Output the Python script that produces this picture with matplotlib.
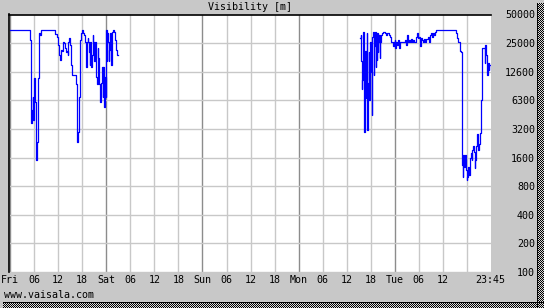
import numpy as np
import matplotlib
matplotlib.use("Agg")
import matplotlib.pyplot as plt

# hours since Fri 00:00, visibility in metres (step samples)
fri_hours = [0.0, 4.85, 5.1, 5.22, 5.43, 5.6, 5.72, 5.85, 6.1, 6.35, 6.5, 6.75,
             6.93, 7.18, 7.43, 7.75, 8.43, 11.18, 11.68, 12.05, 12.3, 12.5,
             12.68, 12.8, 13.05, 13.25, 13.43, 13.68, 13.93, 14.18, 14.43,
             14.55, 14.8, 15.0, 15.18, 15.43, 16.43, 16.68, 16.8, 17.0, 17.18,
             17.3, 17.5, 17.68, 17.93, 18.18, 18.43, 18.68, 18.85, 19.0, 19.18,
             19.35, 19.5, 19.68, 19.85, 20.0, 20.18, 20.43, 20.6, 20.8, 21.0,
             21.18, 21.43, 21.68, 21.85, 22.0, 22.25, 22.5, 22.68, 22.93, 23.1,
             23.3, 23.5, 23.68, 23.85, 24.0, 24.18, 24.3, 24.43, 24.6, 24.75,
             24.93, 25.1, 25.25, 25.43, 25.68, 26.05, 26.25, 26.5, 26.75, 26.93]
fri_vis = [35000, 27500, 9000, 3700, 5100, 7000, 4000, 11100, 6200, 4000, 1520,
           2350, 11100, 33100, 31500, 34800, 35000, 32300, 30000, 24700, 19400,
           16800, 18500, 21900, 20900, 26600, 25400, 23000, 20400, 20900, 19400,
           26000, 29300, 24700, 15200, 11900, 9400, 4300, 2350, 3000, 4500,
           7000, 27900, 33100, 34800, 33100, 31500, 26000, 20400, 14200, 26000,
           29300, 26600, 20400, 15200, 26000, 14200, 19400, 31500, 26000, 16400,
           26000, 11400, 9400, 23000, 18000, 9400, 6100, 9800, 14200, 7000,
           14200, 5400, 11400, 7000, 35000, 16400, 33100, 26000, 16400, 21900,
           33100, 26000, 15200, 33900, 35000, 33900, 27900, 21900, 19400, 19400]

mon_hours = [87.35, 87.5, 87.68, 87.75, 87.93, 88.05, 88.18, 88.43, 88.68, 88.8,
             88.93, 89.05, 89.18, 89.43, 89.55, 89.68, 89.8, 89.93, 90.05, 90.18,
             90.3, 90.43, 90.55, 90.68, 90.8, 90.93, 91.05, 91.18, 91.3, 91.43,
             91.55, 91.68, 91.8, 91.93, 92.05, 92.18, 92.3, 92.43, 92.68, 92.93,
             93.43, 93.68, 93.93, 94.43, 94.68, 94.93, 95.18, 95.43, 95.68, 95.93,
             96.1, 96.3, 96.55, 96.8, 97.05, 97.3, 97.55, 97.93, 98.18, 98.43,
             98.68, 98.93, 99.18, 99.43, 99.68, 99.93, 100.18, 100.43, 100.68,
             100.93, 101.18, 101.43, 101.68, 101.93, 102.3, 102.55, 102.8, 103.05,
             103.3, 103.55, 103.8, 104.18, 104.43, 104.68, 104.93, 105.18, 105.43,
             105.68, 105.93, 106.18, 111.18, 111.43, 111.68, 112.18, 112.43,
             112.68, 112.75, 112.93, 113.1, 113.3, 113.5, 113.68, 113.93, 114.1,
             114.3, 114.5, 114.68, 114.93, 115.18, 115.35, 115.55, 115.75, 115.93,
             116.1, 116.25, 116.43, 116.6, 116.8, 117.0, 117.18, 117.43, 117.68,
             117.93, 118.43, 118.55, 118.8, 118.93, 119.1, 119.25, 119.43, 119.6,
             119.75]
mon_vis = [29300, 30800, 16400, 8500, 10600, 17200, 33900, 3000, 20900, 6700,
           10600, 33100, 3100, 9800, 20400, 6500, 13500, 26000, 21900, 12800,
           4500, 30000, 33900, 11900, 31500, 23600, 33900, 14500, 26600, 17200,
           33100, 20400, 31500, 26600, 31500, 18000, 26000, 31500, 33100, 33900,
           33100, 31500, 33100, 31500, 30000, 26000, 26000, 23600, 26000, 27900,
           22500, 26600, 24700, 27900, 23000, 26000, 26000, 26600, 26000, 27900,
           24700, 30800, 26000, 27900, 26000, 28600, 26000, 27900, 26000, 26600,
           30000, 33100, 29300, 30000, 23600, 29300, 27900, 26000, 28600, 26000,
           28600, 30000, 26600, 31500, 33100, 30000, 33100, 31500, 33900, 35000,
           33100, 29300, 26600, 20900, 20400, 6100, 1340, 1000, 1710, 1280,
           1710, 1190, 930, 1000, 1280, 1050, 1590, 1800, 1520, 1930, 2100, 1840,
           1250, 1520, 2100, 2200, 2800, 1930, 2200, 2900, 6500, 22500, 22500,
           16000, 24700, 19400, 17200, 11900, 16000, 13500, 15200, 15200]

x_ticks = [0, 6, 12, 18, 24, 30, 36, 42, 48, 54, 60, 66, 72, 78, 84, 90, 96,
           102, 108, 119.75]
x_labels = ["Fri", "06", "12", "18", "Sat", "06", "12", "18", "Sun", "06", "12",
            "18", "Mon", "06", "12", "18", "Tue", "06", "12", "23:45"]
grid_hours = list(range(0, 120, 6))
y_ticks = [100, 200, 400, 800, 1600, 3200, 6400, 12800, 25600, 51200]
y_labels = ["100", "200", "400", "800", "1600", "3200", "6300", "12600",
            "25000", "50000"]

bg = "#c8c8c8"
plt.rcParams["font.family"] = ["DejaVu Sans Mono"]
plt.rcParams["font.size"] = 7.2

fig = plt.figure(figsize=(5.44, 3.08), dpi=100, facecolor=bg)
W, H = 544, 308
ax = fig.add_axes([8.5 / W, 1 - 272 / H, (491 - 8.5) / W, (272 - 14.5) / H])
ax.set_facecolor("white")

for h in grid_hours:
    c = "#8c8c8c" if h % 24 == 0 else "#c8c8c8"
    ax.axvline(h, color=c, linewidth=1.0, zorder=1)
for v in y_ticks:
    ax.axhline(v, color="#c8c8c8", linewidth=1.0, zorder=1)

ax.plot(fri_hours, fri_vis, color="#0000ff", linewidth=0.9, drawstyle="steps-post", zorder=3)
ax.plot(mon_hours, mon_vis, color="#0000ff", linewidth=0.9, drawstyle="steps-post", zorder=3)

ax.set_yscale("log", base=2)
ax.set_ylim(100, 51200)
ax.set_xlim(-0.4, 120)

ax.set_xticks(x_ticks, x_labels)
ax.set_yticks(y_ticks, y_labels)
ax.minorticks_off()
ax.tick_params(axis="x", length=0, pad=2.5, colors="black")
ax.tick_params(axis="y", length=0, left=False, labelleft=False, right=False,
               labelright=True, pad=31.7, colors="black")
for t in ax.yaxis.get_major_ticks():
    t.label2.set_horizontalalignment("right")

for s in ["right", "bottom"]:
    ax.spines[s].set_visible(False)
for s in ["top", "left"]:
    ax.spines[s].set_color("black")
    ax.spines[s].set_linewidth(1.2)
    ax.spines[s].set_zorder(4)

fig.text(250 / W, 1 - 7.5 / H, "Visibility [m]", ha="center", va="center")
fig.text(4 / W, 1 - 295.5 / H, "www.vaisala.com", ha="left", va="center")

# checkered drop shadow along the right and bottom edges
yy, xx = np.mgrid[0:H, 0:W]
shadow = np.zeros((H, W, 4))
mask = ((xx >= 537) & (yy >= 3)) | ((yy >= 302) & (xx >= 3))
dark = mask & (((xx + yy) % 2 == 0) | (xx == 537) | (yy == 302))
light = mask & ~dark
shadow[dark] = [0, 0, 0, 1]
shadow[light] = [0.85, 0.85, 0.85, 1]
fig.figimage(shadow, 0, 0, origin="upper", zorder=10)

fig.savefig("out.png", dpi=100, facecolor=bg)
plt.close(fig)
